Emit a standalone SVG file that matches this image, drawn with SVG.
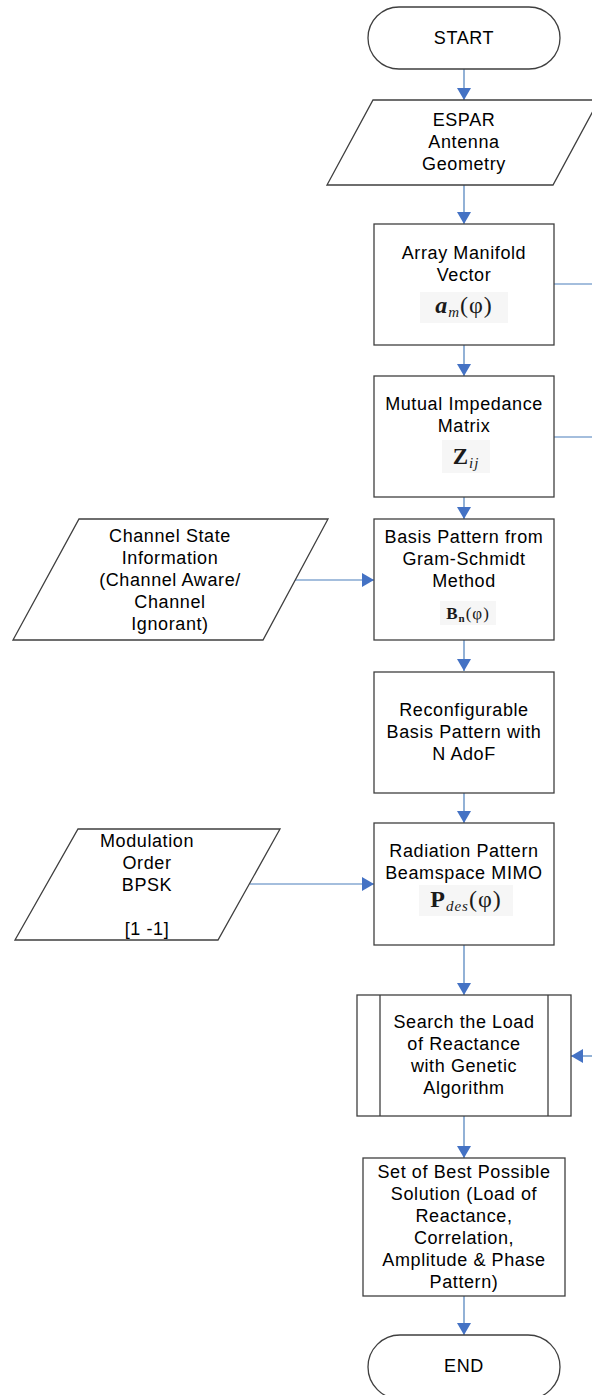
<svg xmlns="http://www.w3.org/2000/svg" width="592" height="1395" viewBox="0 0 592 1395">
  <style>
    .shape { fill: #ffffff; stroke: #3f3f3f; stroke-width: 1.3; }
    .lbl { font-family: "Liberation Sans", Arial, sans-serif; font-size: 18px; letter-spacing: 0.6px; text-anchor: middle; fill: #000000; }
    .math { font-family: "Liberation Serif", "DejaVu Serif", serif; text-anchor: middle; fill: #1a1a1a; letter-spacing: 1px; }
    .mbg { fill: #f6f6f6; stroke: none; }
    .conn { fill: none; stroke: #4a7ebb; stroke-width: 1.2; }
  </style>
  <defs>
    <marker id="arrow" markerUnits="userSpaceOnUse" markerWidth="12" markerHeight="14" viewBox="0 0 12 14" refX="12" refY="7" orient="auto">
      <path d="M0,0 L12,7 L0,14 z" fill="#4472c4"/>
    </marker>
  </defs>

  <rect width="592" height="1395" fill="#ffffff"/>

  <!-- connectors -->
  <g id="connectors">
    <line class="conn" x1="464" y1="69" x2="464" y2="100" marker-end="url(#arrow)"/>
    <line class="conn" x1="464" y1="185" x2="464" y2="224" marker-end="url(#arrow)"/>
    <line class="conn" x1="464" y1="345" x2="464" y2="376" marker-end="url(#arrow)"/>
    <line class="conn" x1="464" y1="497" x2="464" y2="519" marker-end="url(#arrow)"/>
    <line class="conn" x1="295" y1="580" x2="374" y2="580" marker-end="url(#arrow)"/>
    <line class="conn" x1="464" y1="640" x2="464" y2="671" marker-end="url(#arrow)"/>
    <line class="conn" x1="464" y1="793" x2="464" y2="823" marker-end="url(#arrow)"/>
    <line class="conn" x1="250" y1="884" x2="374" y2="884" marker-end="url(#arrow)"/>
    <line class="conn" x1="464" y1="945" x2="464" y2="995" marker-end="url(#arrow)"/>
    <line class="conn" x1="464" y1="1116" x2="464" y2="1158" marker-end="url(#arrow)"/>
    <line class="conn" x1="464" y1="1296" x2="464" y2="1335" marker-end="url(#arrow)"/>
    <line class="conn" x1="554" y1="284" x2="592" y2="284"/>
    <line class="conn" x1="554" y1="437" x2="592" y2="437"/>
    <line class="conn" x1="592" y1="1056" x2="571" y2="1056" marker-end="url(#arrow)"/>
  </g>

  <!-- terminator: start -->
  <g id="start">
    <rect class="shape" x="368" y="7" width="192" height="62" rx="31" ry="31"/>
    <text class="lbl" x="464" y="44">START</text>
  </g>

  <!-- input: antenna geometry -->
  <g id="espar">
    <polygon class="shape" points="373,100 599,100 553,185 327,185"/>
    <text class="lbl" x="464" y="126">ESPAR</text>
    <text class="lbl" x="464" y="148">Antenna</text>
    <text class="lbl" x="464" y="170">Geometry</text>
  </g>

  <!-- process: array manifold vector -->
  <g id="manifold">
    <rect class="shape" x="374" y="224" width="180" height="121"/>
    <text class="lbl" x="464" y="259">Array Manifold</text>
    <text class="lbl" x="464" y="281">Vector</text>
    <rect class="mbg" x="420" y="292" width="88" height="31"/>
    <text class="math" x="464" y="313" font-size="24"><tspan font-weight="bold" font-style="italic">a</tspan><tspan font-size="15" font-style="italic" dy="4">m</tspan><tspan dy="-4">(φ)</tspan></text>
  </g>

  <!-- process: mutual impedance matrix -->
  <g id="impedance">
    <rect class="shape" x="374" y="376" width="180" height="121"/>
    <text class="lbl" x="464" y="410">Mutual Impedance</text>
    <text class="lbl" x="464" y="432">Matrix</text>
    <rect class="mbg" x="442" y="440" width="48" height="33"/>
    <text class="math" x="466" y="464" font-size="23"><tspan font-weight="bold">Z</tspan><tspan font-size="15" font-style="italic" dy="4">ij</tspan></text>
  </g>

  <!-- input: channel state information -->
  <g id="csi">
    <polygon class="shape" points="79,519 328,519 263,640 13,640"/>
    <text class="lbl" x="170" y="542">Channel State</text>
    <text class="lbl" x="170" y="564">Information</text>
    <text class="lbl" x="170" y="586">(Channel Aware/</text>
    <text class="lbl" x="170" y="608">Channel</text>
    <text class="lbl" x="170" y="630">Ignorant)</text>
  </g>

  <!-- process: basis pattern -->
  <g id="basis">
    <rect class="shape" x="374" y="519" width="180" height="121"/>
    <text class="lbl" x="464" y="543">Basis Pattern from</text>
    <text class="lbl" x="464" y="565">Gram-Schmidt</text>
    <text class="lbl" x="464" y="587">Method</text>
    <rect class="mbg" x="440" y="601" width="56" height="24"/>
    <text class="math" x="468" y="619" font-size="17"><tspan font-weight="bold">B</tspan><tspan font-size="11" font-weight="bold" dy="3">n</tspan><tspan dy="-3">(φ)</tspan></text>
  </g>

  <!-- process: reconfigurable basis pattern -->
  <g id="reconfig">
    <rect class="shape" x="374" y="672" width="180" height="121"/>
    <text class="lbl" x="464" y="716">Reconfigurable</text>
    <text class="lbl" x="464" y="738">Basis Pattern with</text>
    <text class="lbl" x="464" y="760">N AdoF</text>
  </g>

  <!-- input: modulation order -->
  <g id="modulation">
    <polygon class="shape" points="78,829 280,829 218,940 15,940"/>
    <text class="lbl" x="147" y="847">Modulation</text>
    <text class="lbl" x="147" y="869">Order</text>
    <text class="lbl" x="147" y="891">BPSK</text>
    <text class="lbl" x="147" y="935">[1 -1]</text>
  </g>

  <!-- process: radiation pattern -->
  <g id="radiation">
    <rect class="shape" x="374" y="823" width="180" height="122"/>
    <text class="lbl" x="464" y="857">Radiation Pattern</text>
    <text class="lbl" x="464" y="879">Beamspace MIMO</text>
    <rect class="mbg" x="419" y="885" width="94" height="31"/>
    <text class="math" x="466" y="907" font-size="24"><tspan font-weight="bold">P</tspan><tspan font-size="15" font-style="italic" dy="4">des</tspan><tspan dy="-4">(φ)</tspan></text>
  </g>

  <!-- predefined process: genetic algorithm search -->
  <g id="search">
    <rect class="shape" x="357" y="995" width="214" height="121"/>
    <line class="shape" x1="380" y1="995" x2="380" y2="1116"/>
    <line class="shape" x1="548" y1="995" x2="548" y2="1116"/>
    <text class="lbl" x="464" y="1028">Search the Load</text>
    <text class="lbl" x="464" y="1050">of Reactance</text>
    <text class="lbl" x="464" y="1072">with Genetic</text>
    <text class="lbl" x="464" y="1094">Algorithm</text>
  </g>

  <!-- process: best solution set -->
  <g id="solution">
    <rect class="shape" x="363" y="1158" width="202" height="138"/>
    <text class="lbl" x="464" y="1178">Set of Best Possible</text>
    <text class="lbl" x="464" y="1200">Solution (Load of</text>
    <text class="lbl" x="464" y="1222">Reactance,</text>
    <text class="lbl" x="464" y="1244">Correlation,</text>
    <text class="lbl" x="464" y="1266">Amplitude &amp; Phase</text>
    <text class="lbl" x="464" y="1288">Pattern)</text>
  </g>

  <!-- terminator: end -->
  <g id="end">
    <rect class="shape" x="368" y="1335" width="192" height="64" rx="32" ry="32"/>
    <text class="lbl" x="464" y="1372">END</text>
  </g>
</svg>
